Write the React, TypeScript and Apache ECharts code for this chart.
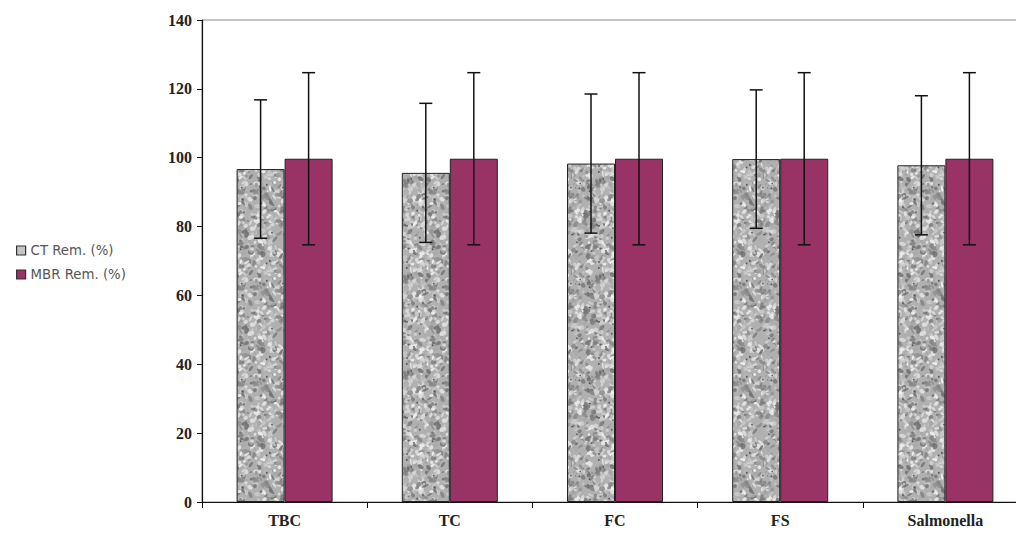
import React, { useEffect, useRef } from "react";
import * as echarts from "echarts";

const categories = ["TBC", "TC", "FC", "FS", "Salmonella"];
const ctRem = [96.7, 95.6, 98.3, 99.6, 97.8];
const ctErr = [20.1, 20.2, 20.2, 20.1, 20.2];
const mbrRem = [99.7, 99.7, 99.7, 99.7, 99.7];
const mbrErr = [25, 25, 25, 25, 25];
const seriesNames = ["CT Rem. (%)", "MBR Rem. (%)"];
const yTicks = { min: 0, max: 140, interval: 20 };

const BAR_W = 48;
const SERIF = "'Liberation Serif', 'Times New Roman', serif";

function makeTexture(): HTMLCanvasElement {
  let seed = 98765;
  const rnd = () => {
    seed = (seed * 1103515245 + 12345) & 0x7fffffff;
    return seed / 0x7fffffff;
  };
  const S = 96;
  const c = document.createElement("canvas");
  c.width = S;
  c.height = S;
  const ctx = c.getContext("2d")!;
  ctx.fillStyle = "#b0b0b0";
  ctx.fillRect(0, 0, S, S);
  const blob = (x: number, y: number, rx: number, ry: number, rot: number, col: string) => {
    for (const dx of [-S, 0, S]) {
      for (const dy of [-S, 0, S]) {
        ctx.beginPath();
        ctx.ellipse(x + dx, y + dy, rx, ry, rot, 0, Math.PI * 2);
        ctx.fillStyle = col;
        ctx.fill();
      }
    }
  };
  for (let i = 0; i < 700; i++) {
    const r = rnd();
    let v: number;
    if (r < 0.32) v = 105 + rnd() * 40;
    else if (r < 0.55) v = 160 + rnd() * 25;
    else v = 200 + rnd() * 50;
    const g = Math.round(v);
    blob(rnd() * S, rnd() * S, 1 + rnd() * 2.6, 0.8 + rnd() * 1.6, rnd() * Math.PI, `rgba(${g},${g},${g},0.8)`);
  }
  for (let i = 0; i < 25; i++) {
    blob(rnd() * S, rnd() * S, 0.9, 0.9, 0, "rgba(60,60,60,0.8)");
  }
  return c;
}

function errorSeries(name: string, vals: number[], errs: number[], side: number) {
  return {
    type: "custom",
    name: name + " err",
    z: 10,
    silent: true,
    data: vals.map((v, i) => [i, v, errs[i]]),
    renderItem: (params: any, api: any) => {
      const idx = api.value(0);
      const v = api.value(1);
      const e = api.value(2);
      const top = api.coord([idx, v + e]);
      const bot = api.coord([idx, v - e]);
      const x = top[0] + side * (BAR_W / 2);
      const cap = 6.5;
      const style = { stroke: "#111", lineWidth: 1.5 };
      return {
        type: "group",
        children: [
          { type: "line", shape: { x1: x, y1: top[1], x2: x, y2: bot[1] }, style },
          { type: "line", shape: { x1: x - cap, y1: top[1], x2: x + cap, y2: top[1] }, style },
          { type: "line", shape: { x1: x - cap, y1: bot[1], x2: x + cap, y2: bot[1] }, style },
        ],
      };
    },
  };
}

export default function App() {
  const ref = useRef<HTMLDivElement>(null);
  useEffect(() => {
    if (!ref.current) return;
    const chart = echarts.init(ref.current, undefined, { renderer: "svg" });
    const tex = makeTexture();
    chart.setOption({
      animation: false,
      backgroundColor: "#fff",
      grid: {
        left: 202,
        width: 826,
        top: 20,
        bottom: 33,
        containLabel: false,
        outerBoundsMode: "none",
        show: true,
        borderColor: "#8a8a8a",
        borderWidth: 1,
      },
      legend: {
        orient: "vertical",
        left: 11,
        top: 239,
        itemWidth: 9,
        itemHeight: 9,
        itemGap: 11,
        textStyle: { color: "#555", fontSize: 13.3, fontFamily: "'DejaVu Sans', sans-serif" },
        data: [
          { name: seriesNames[0], icon: "rect", itemStyle: { color: "#c4c4c4", borderColor: "#333", borderWidth: 1.2 } },
          { name: seriesNames[1], icon: "rect", itemStyle: { color: "#993366", borderColor: "#333", borderWidth: 1.2 } },
        ],
      },
      xAxis: {
        type: "category",
        data: categories,
        axisLine: { lineStyle: { color: "#111", width: 1.2 } },
        axisTick: { show: true, length: 6, alignWithLabel: false, lineStyle: { color: "#111" } },
        axisLabel: {
          color: "#222",
          fontFamily: SERIF,
          fontWeight: "bold",
          fontSize: 16,
          margin: 10,
        },
      },
      yAxis: {
        type: "value",
        min: yTicks.min,
        max: yTicks.max,
        interval: yTicks.interval,
        splitLine: { show: false },
        axisLine: { show: true, lineStyle: { color: "#111", width: 1.2 } },
        axisTick: { show: true, length: 5, lineStyle: { color: "#111" } },
        axisLabel: {
          color: "#222",
          fontFamily: SERIF,
          fontWeight: "bold",
          fontSize: 16,
          margin: 10,
        },
      },
      series: [
        {
          type: "bar",
          name: seriesNames[0],
          data: ctRem,
          barWidth: BAR_W,
          barGap: "0%",
          itemStyle: {
            color: { image: tex, repeat: "repeat" },
            borderColor: "#222",
            borderWidth: 1,
          },
        },
        {
          type: "bar",
          name: seriesNames[1],
          data: mbrRem,
          barWidth: BAR_W,
          barGap: "0%",
          itemStyle: { color: "#993366", borderColor: "#222", borderWidth: 1 },
        },
        errorSeries(seriesNames[0], ctRem, ctErr, -1),
        errorSeries(seriesNames[1], mbrRem, mbrErr, 1),
      ],
    });
    return () => chart.dispose();
  }, []);
  return <div ref={ref} style={{ width: 1016, height: 535, position: "absolute", left: 0, top: 0 }} />;
}
